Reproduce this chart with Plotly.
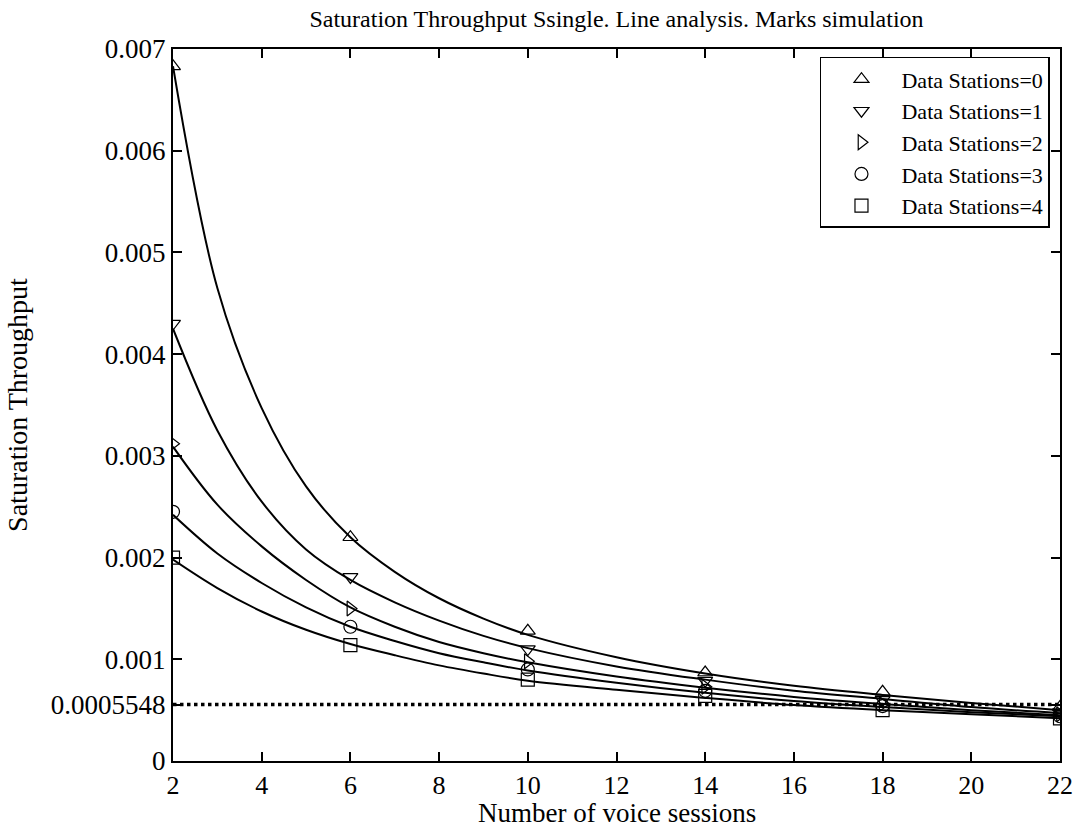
import plotly.graph_objects as go

# ---- data ----
sessions_sim = [2, 6, 10, 14, 18, 22]
sim_ds0 = [0.00683, 0.00220, 0.00128, 0.00087, 0.00068, 0.00053]
sim_ds1 = [0.00430, 0.00181, 0.00110, 0.00079, 0.00060, 0.00048]
sim_ds2 = [0.00312, 0.00150, 0.00098, 0.00073, 0.00056, 0.00046]
sim_ds3 = [0.00245, 0.00132, 0.00090, 0.00069, 0.00054, 0.00044]
sim_ds4 = [0.00200, 0.00114, 0.00080, 0.00064, 0.00050, 0.00042]

sessions_ana = [2, 3, 4, 5, 6, 7, 8, 9, 10, 12, 14, 16, 18, 20, 22]
ana_ds0 = [0.00683, 0.00465, 0.00347, 0.00270, 0.00220, 0.00186, 0.00160, 0.00140, 0.00124, 0.00102, 0.00086, 0.00074, 0.00065, 0.00057, 0.00050]
ana_ds1 = [0.00425, 0.00325, 0.00255, 0.00208, 0.00178, 0.00156, 0.00138, 0.00123, 0.00111, 0.00093, 0.00080, 0.00069, 0.00061, 0.00053, 0.00047]
ana_ds2 = [0.00309, 0.00252, 0.00211, 0.00178, 0.00151, 0.00132, 0.00117, 0.00106, 0.00097, 0.00083, 0.00072, 0.00063, 0.00056, 0.00050, 0.00045]
ana_ds3 = [0.00242, 0.00204, 0.00175, 0.00151, 0.00132, 0.00118, 0.00106, 0.00097, 0.00089, 0.00077, 0.00067, 0.00059, 0.00053, 0.00048, 0.00044]
ana_ds4 = [0.00198, 0.00170, 0.00147, 0.00129, 0.00115, 0.00104, 0.00094, 0.00086, 0.00079, 0.00070, 0.00062, 0.00055, 0.00050, 0.00046, 0.00042]

threshold = 0.0005548
series_names = ["Data Stations=0", "Data Stations=1", "Data Stations=2", "Data Stations=3", "Data Stations=4"]
symbols = ["triangle-up-open", "triangle-down-open", "triangle-right-open", "circle-open", "square-open"]

y_tickvals = [0, threshold, 0.001, 0.002, 0.003, 0.004, 0.005, 0.006, 0.007]
y_ticktext = ["0", "0.0005548", "0.001", "0.002", "0.003", "0.004", "0.005", "0.006", "0.007"]
x_tickvals = [2, 4, 6, 8, 10, 12, 14, 16, 18, 20, 22]
x_title = "Number of voice sessions"
y_title = "Saturation Throughput"
chart_title = "Saturation Throughput Ssingle. Line analysis. Marks simulation"

FONT = "Liberation Serif"

fig = go.Figure()
analysis = [ana_ds0, ana_ds1, ana_ds2, ana_ds3, ana_ds4]
simulation = [sim_ds0, sim_ds1, sim_ds2, sim_ds3, sim_ds4]

for a in analysis:
    fig.add_trace(go.Scatter(x=sessions_ana, y=a, mode="lines", showlegend=False,
                             line=dict(color="black", width=2, shape="spline", smoothing=1.0)))

for name, s, sym in zip(series_names, simulation, symbols):
    fig.add_trace(go.Scatter(x=sessions_sim, y=s, mode="markers", name=name,
                             marker=dict(symbol=sym, size=13, color="black", line=dict(width=1.2, color="black"))))

fig.add_hline(y=threshold, line=dict(color="black", width=3.5, dash="dot"))

fig.add_annotation(text=x_title, xref="paper", yref="paper", x=0.5, y=-0.073,
                   xanchor="center", yanchor="middle", showarrow=False,
                   font=dict(family=FONT, size=27, color="black"))

fig.update_layout(
    width=1079, height=827,
    margin=dict(l=173, r=19, t=49, b=66, autoexpand=False),
    paper_bgcolor="white", plot_bgcolor="white",
    font=dict(family=FONT, color="black"),
    title=dict(text=chart_title, xref="paper", x=0.5, xanchor="center", y=0.988, yanchor="top",
               font=dict(family=FONT, size=24, color="black")),
    xaxis=dict(range=[2, 22], tickvals=x_tickvals, ticks="inside", ticklen=9, tickwidth=1.5,
               tickcolor="black", showline=True, linecolor="black", linewidth=2, mirror="ticks",
               showgrid=False, zeroline=False, tickfont=dict(family=FONT, size=26), automargin=False),
    yaxis=dict(range=[0, 0.007], tickvals=y_tickvals, ticktext=y_ticktext, ticks="inside", ticklen=9,
               tickwidth=1.5, tickcolor="black", showline=True, linecolor="black", linewidth=2,
               mirror="ticks", showgrid=False, zeroline=False, tickfont=dict(family=FONT, size=27),
               automargin=False,
               title=dict(text=y_title, font=dict(family=FONT, size=28))),
    legend=dict(x=0.9887, xanchor="right", y=0.989, yanchor="top", bgcolor="white",
                bordercolor="black", borderwidth=1.5, font=dict(family=FONT, size=22),
                tracegroupgap=0, itemwidth=70),
)

fig.write_html("out.html")
